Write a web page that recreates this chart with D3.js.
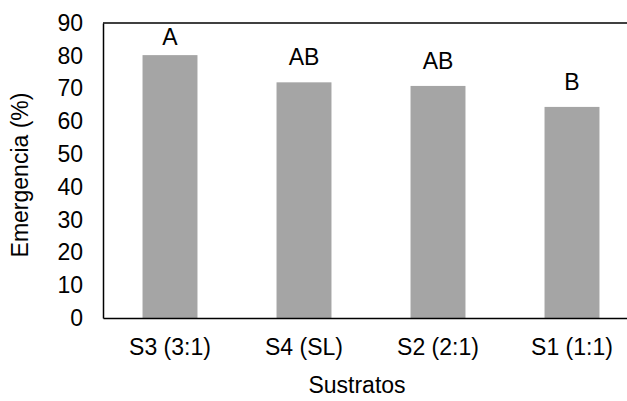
<!DOCTYPE html>
<html><head><meta charset="utf-8">
<script src="https://cdn.jsdelivr.net/npm/d3@7"></script>
<style>
body{margin:0;background:#fff}
text{font-family:"Liberation Sans",Arial,sans-serif;fill:#000}
</style></head>
<body><svg id="c" width="627" height="401"></svg>
<script>
const categories = ["S3 (3:1)", "S4 (SL)", "S2 (2:1)", "S1 (1:1)"];
const values = [80.2, 71.9, 70.8, 64.4];
const letters = ["A", "AB", "AB", "B"];
const yTicks = [0,10,20,30,40,50,60,70,80,90];
const yTitle = "Emergencia (%)";
const xTitle = "Sustratos";

const svg = d3.select("#c");
const L = 103, R = 639, T = 23, B = 318;
const FS = 23;

const x = d3.scaleBand().domain(categories).range([L, R]).paddingInner(0.59).paddingOuter(0.295);
const y = d3.scaleLinear().domain([0, 90]).range([B, T]);

svg.selectAll("rect.bar").data(values).enter().append("rect")
  .attr("class","bar")
  .attr("x", (d,i) => x(categories[i]))
  .attr("width", x.bandwidth())
  .attr("y", d => y(d))
  .attr("height", d => y(0) - y(d))
  .attr("fill", "#a5a5a5");

const yAxis = d3.axisLeft(y).tickValues(yTicks).tickSize(0).tickPadding(20);
const gy = svg.append("g").attr("transform", `translate(${L},0)`).call(yAxis);
gy.select(".domain").attr("stroke","#000").attr("stroke-width",1.5);
gy.selectAll("text").style("font-size", FS+"px").attr("font-family", null);

const xAxis = d3.axisBottom(x).tickSize(0).tickPadding(21);
const gx = svg.append("g").attr("transform", `translate(0,${B})`).call(xAxis);
gx.select(".domain").attr("stroke","#000").attr("stroke-width",1.5);
gx.selectAll("text").style("font-size", FS+"px").attr("font-family", null);

svg.append("line").attr("x1", L).attr("x2", R).attr("y1", y(90)).attr("y2", y(90))
  .attr("stroke","#000").attr("stroke-width",1.5);

svg.selectAll("text.lab").data(values).enter().append("text")
  .attr("class","lab")
  .attr("x", (d,i) => x(categories[i]) + x.bandwidth()/2)
  .attr("y", d => Math.max(y(d) - 17, y(90) + 22))
  .attr("text-anchor","middle")
  .style("font-size", FS+"px")
  .text((d,i) => letters[i]);

svg.append("text")
  .attr("transform", `translate(28,175) rotate(-90)`)
  .attr("text-anchor","middle")
  .style("font-size", FS+"px")
  .text(yTitle);

svg.append("text")
  .attr("x", 357).attr("y", 393)
  .attr("text-anchor","middle")
  .style("font-size", FS+"px")
  .text(xTitle);
</script></body></html>
